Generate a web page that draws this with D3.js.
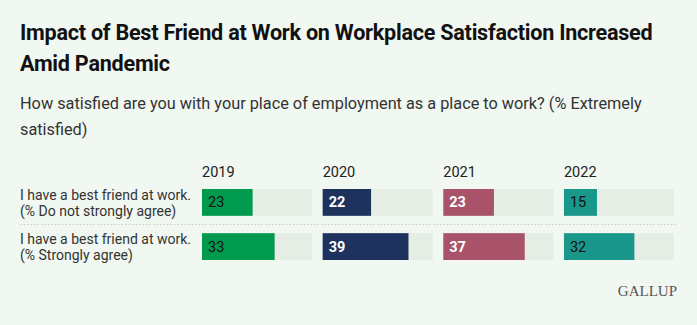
<!DOCTYPE html>
<html>
<head>
<meta charset="utf-8">
<script src="https://cdn.jsdelivr.net/npm/d3@7"></script>
<style>
  html, body { margin: 0; padding: 0; background: #f1f7f1; }
  svg { display: block; font-family: Roboto, "Noto Sans", sans-serif; }
</style>
</head>
<body>
<svg id="chart" width="697" height="325"></svg>
<script>
// data
const years = ["2019", "2020", "2021", "2022"];
const rows = ["notStrong", "strong"];
const rowLabels = [
  ["I have a best friend at work.", "(% Do not strongly agree)"],
  ["I have a best friend at work.", "(% Strongly agree)"]
];
const notStrongly = [23, 22, 23, 15];
const strongly = [33, 39, 37, 32];

const yearColors = ["#009a4e", "#1d335d", "#a9536b", "#18978a"];
const labelColors = ["#111", "#fff", "#fff", "#111"];

const svg = d3.select("#chart");

svg.append("rect").attr("width", 697).attr("height", 325).attr("fill", "#f1f7f1");

// title + subtitle
const title = svg.append("text")
  .attr("x", 20).attr("y", 40)
  .attr("font-size", 21.6).attr("font-weight", 700).attr("fill", "#111")
  .attr("letter-spacing", -0.25);
title.append("tspan").attr("x", 20).text("Impact of Best Friend at Work on Workplace Satisfaction Increased");
title.append("tspan").attr("x", 20).attr("dy", 31).text("Amid Pandemic");

const sub = svg.append("text")
  .attr("x", 20).attr("y", 109)
  .attr("font-size", 16.3).attr("fill", "#333");
sub.append("tspan").attr("x", 20).text("How satisfied are you with your place of employment as a place to work? (% Extremely");
sub.append("tspan").attr("x", 20).attr("dy", 26).text("satisfied)");

// scales
const xPanel = d3.scaleBand().domain(years).range([202, 674]).paddingInner(0.088);
const yRow = d3.scaleBand().domain(rows).range([189, 260]).paddingInner(0.393);
const xVal = d3.scaleLinear().domain([0, 50]).range([0, xPanel.bandwidth()]);

// year headers
svg.selectAll("text.year").data(years).enter()
  .append("text").attr("class", "year")
  .attr("x", d => xPanel(d))
  .attr("y", 177)
  .attr("font-size", 14.5).attr("fill", "#222")
  .text(d => d);

// row labels
rows.forEach((r, i) => {
  const t = svg.append("text")
    .attr("x", 20).attr("y", yRow(r) + 11)
    .attr("font-size", 14).attr("fill", "#333");
  t.append("tspan").attr("x", 20).text(rowLabels[i][0]);
  t.append("tspan").attr("x", 20).attr("dy", 16).text(rowLabels[i][1]);
});

// separator
svg.append("line")
  .attr("x1", 20).attr("x2", 678)
  .attr("y1", 224.5).attr("y2", 224.5)
  .attr("stroke", "#c8ccc8").attr("stroke-width", 1)
  .attr("stroke-dasharray", "1.5,2");

const series = [notStrongly, strongly];
const cells = [];
rows.forEach((r, ri) => {
  years.forEach((y, yi) => {
    cells.push({ row: r, year: y, yi: yi, value: series[ri][yi] });
  });
});

// background tracks
svg.selectAll("rect.track").data(cells).enter()
  .append("rect").attr("class", "track")
  .attr("x", d => xPanel(d.year))
  .attr("y", d => yRow(d.row))
  .attr("width", xPanel.bandwidth())
  .attr("height", yRow.bandwidth())
  .attr("fill", "#e5ede5");

// bars
svg.selectAll("rect.bar").data(cells).enter()
  .append("rect").attr("class", "bar")
  .attr("x", d => xPanel(d.year))
  .attr("y", d => yRow(d.row))
  .attr("width", d => xVal(d.value))
  .attr("height", yRow.bandwidth())
  .attr("fill", d => yearColors[d.yi]);

// value labels
svg.selectAll("text.val").data(cells).enter()
  .append("text").attr("class", "val")
  .attr("x", d => xPanel(d.year) + 6)
  .attr("y", d => yRow(d.row) + yRow.bandwidth() / 2)
  .attr("dy", "0.35em")
  .attr("font-size", 14.5)
  .attr("font-weight", d => labelColors[d.yi] === "#fff" ? 700 : 400)
  .attr("fill", d => labelColors[d.yi])
  .text(d => d.value);

// logo
svg.append("text")
  .attr("x", 677).attr("y", 296)
  .attr("text-anchor", "end")
  .attr("font-family", "'Liberation Serif', serif")
  .attr("font-size", 15).attr("fill", "#555")
  .text("GALLUP");
</script>
</body>
</html>
